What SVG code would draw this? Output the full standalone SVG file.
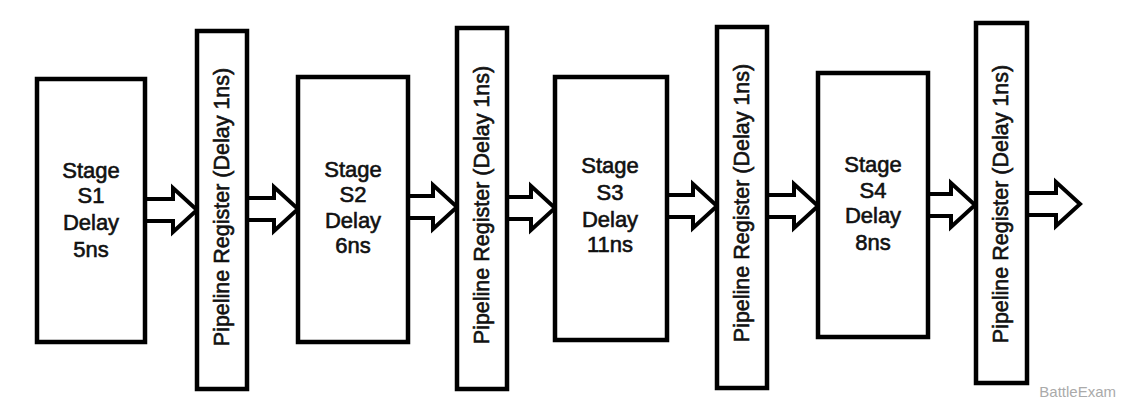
<svg xmlns="http://www.w3.org/2000/svg" width="1125" height="407" viewBox="0 0 1125 407">
<style>
.box{fill:#fff;stroke:#000;stroke-width:4.5}
.arr{fill:#fff;stroke:#000;stroke-width:4;stroke-linejoin:miter}
.lbl{font-family:"Liberation Sans",Arial,sans-serif;font-size:22px;fill:#111;stroke:#111;stroke-width:0.6;text-anchor:middle}
.reg{font-family:"Liberation Sans",Arial,sans-serif;font-size:21.5px;fill:#111;stroke:#111;stroke-width:0.6;text-anchor:middle}
.wm{font-family:"Liberation Sans",Arial,sans-serif;font-size:15px;fill:#aaa;text-anchor:end}
</style>
<rect width="1125" height="407" fill="#fff"/>
<g id="connectors">
<polygon class="arr" points="145,199 173,199 173,188 197,210 173,232 173,221 145,221"/>
<polygon class="arr" points="247,198 274,198 274,187 298,209 274,231 274,220 247,220"/>
<polygon class="arr" points="408,196 433,196 433,185 457,207 433,229 433,218 408,218"/>
<polygon class="arr" points="507,197 531,197 531,186 555,208 531,230 531,219 507,219"/>
<polygon class="arr" points="667,195 693,195 693,184 717,206 693,228 693,217 667,217"/>
<polygon class="arr" points="767,195 794,195 794,184 818,206 794,228 794,217 767,217"/>
<polygon class="arr" points="928,194 951,194 951,183 975,205 951,227 951,216 928,216"/>
<polygon class="arr" points="1027,193 1056,193 1056,182 1080,204 1056,226 1056,215 1027,215"/>
</g>
<g id="s1">
<rect class="box" x="37" y="79" width="108" height="263"/>
<text class="lbl" x="91" y="178">Stage</text>
<text class="lbl" x="91" y="203">S1</text>
<text class="lbl" x="91" y="230">Delay</text>
<text class="lbl" x="91" y="257">5ns</text>
</g>
<g id="r1">
<rect class="box" x="197" y="31" width="50" height="358"/>
<text class="reg" transform="translate(229,207) rotate(-90)">Pipeline Register (Delay 1ns)</text>
</g>
<g id="s2">
<rect class="box" x="298" y="77" width="110" height="265"/>
<text class="lbl" x="353" y="177">Stage</text>
<text class="lbl" x="353" y="202">S2</text>
<text class="lbl" x="353" y="228">Delay</text>
<text class="lbl" x="353" y="253">6ns</text>
</g>
<g id="r2">
<rect class="box" x="457" y="28" width="50" height="361"/>
<text class="reg" transform="translate(489,205) rotate(-90)">Pipeline Register (Delay 1ns)</text>
</g>
<g id="s3">
<rect class="box" x="555" y="77" width="112" height="263"/>
<text class="lbl" x="610" y="173">Stage</text>
<text class="lbl" x="610" y="200">S3</text>
<text class="lbl" x="610" y="227">Delay</text>
<text class="lbl" x="610" y="252">11ns</text>
</g>
<g id="r3">
<rect class="box" x="717" y="27" width="50" height="361"/>
<text class="reg" transform="translate(749,203) rotate(-90)">Pipeline Register (Delay 1ns)</text>
</g>
<g id="s4">
<rect class="box" x="818" y="73" width="110" height="264"/>
<text class="lbl" x="873" y="172">Stage</text>
<text class="lbl" x="873" y="198">S4</text>
<text class="lbl" x="873" y="223">Delay</text>
<text class="lbl" x="873" y="250">8ns</text>
</g>
<g id="r4">
<rect class="box" x="976" y="23" width="51" height="360"/>
<text class="reg" transform="translate(1008,204) rotate(-90)">Pipeline Register (Delay 1ns)</text>
</g>
<text class="wm" x="1116" y="397">BattleExam</text>
</svg>
